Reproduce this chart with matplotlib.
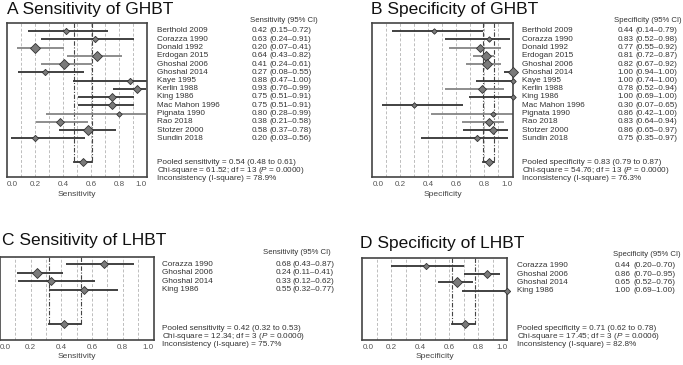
import matplotlib.pyplot as plt
import matplotlib.transforms as mtransforms

plt.rcParams['font.family'] = 'Liberation Sans'
plt.rcParams['mathtext.fontset'] = 'custom'
plt.rcParams['mathtext.rm'] = 'Liberation Sans'
plt.rcParams['mathtext.it'] = 'Liberation Sans:italic'

# ---- data ----
ghbt_studies = ['Berthold 2009', 'Corazza 1990', 'Donald 1992', 'Erdogan 2015',
                'Ghoshal 2006', 'Ghoshal 2014', 'Kaye 1995', 'Kerlin 1988', 'King 1986',
                'Mac Mahon 1996', 'Pignata 1990', 'Rao 2018', 'Stotzer 2000', 'Sundin 2018']
ghbt_sens = [0.42, 0.63, 0.20, 0.64, 0.41, 0.27, 0.88, 0.93, 0.75, 0.75, 0.80, 0.38, 0.58, 0.20]
ghbt_sens_lo = [0.15, 0.24, 0.07, 0.43, 0.24, 0.08, 0.47, 0.76, 0.51, 0.51, 0.28, 0.21, 0.37, 0.03]
ghbt_sens_hi = [0.72, 0.91, 0.41, 0.82, 0.61, 0.55, 1.00, 0.99, 0.91, 0.91, 0.99, 0.58, 0.78, 0.56]
ghbt_sens_weight = [4, 4, 6, 6.5, 6, 4, 4, 5.5, 5.5, 5.5, 3.5, 5.5, 6, 4]
ghbt_sens_pooled = (0.54, 0.48, 0.61)
ghbt_sens_stats = ('61.52', 13, '0.0000', '78.9')

ghbt_spec = [0.44, 0.83, 0.77, 0.81, 0.82, 1.00, 1.00, 0.78, 1.00, 0.30, 0.86, 0.83, 0.86, 0.75]
ghbt_spec_lo = [0.14, 0.52, 0.55, 0.72, 0.67, 0.94, 0.74, 0.52, 0.69, 0.07, 0.42, 0.64, 0.65, 0.35]
ghbt_spec_hi = [0.79, 0.98, 0.92, 0.87, 0.92, 1.00, 1.00, 0.94, 1.00, 0.65, 1.00, 0.94, 0.97, 0.97]
ghbt_spec_weight = [3.5, 3.5, 5.5, 7, 6, 6, 3.5, 5, 3.5, 3.5, 3.5, 5.5, 5, 4]
ghbt_spec_pooled = (0.83, 0.79, 0.87)
ghbt_spec_stats = ('54.76', 13, '0.0000', '76.3')

lhbt_studies = ['Corazza 1990', 'Ghoshal 2006', 'Ghoshal 2014', 'King 1986']
lhbt_sens = [0.68, 0.24, 0.33, 0.55]
lhbt_sens_lo = [0.43, 0.11, 0.12, 0.32]
lhbt_sens_hi = [0.87, 0.41, 0.62, 0.77]
lhbt_sens_weight = [5.5, 6.5, 5.5, 5.5]
lhbt_sens_pooled = (0.42, 0.32, 0.53)
lhbt_sens_stats = ('12.34', 3, '0.0000', '75.7')

lhbt_spec = [0.44, 0.86, 0.65, 1.00]
lhbt_spec_lo = [0.20, 0.70, 0.52, 0.69]
lhbt_spec_hi = [0.70, 0.95, 0.76, 1.00]
lhbt_spec_weight = [4, 5.5, 7, 4]
lhbt_spec_pooled = (0.71, 0.62, 0.78)
lhbt_spec_stats = ('17.45', 3, '0.0006', '82.8')

W, H = 683, 365
fig = plt.figure(figsize=(W / 100, H / 100), dpi=100)

DARK = '#333333'
GREY = '#858585'
FS = 5.9  # small text


def draw_panel(title, title_xy, box, studies, est, lo, hi, weight, pooled, stats,
               measure, cols, grey_rows, pool_text_px):
    left, top, right, bottom, row0, step, pool_px = box
    ax = fig.add_axes([left / W, 1 - bottom / H, (right - left) / W, (bottom - top) / H])
    ypool = (pool_px - row0) / step
    ytop = (top - row0) / step
    ax.set_xlim(0, 1)
    ax.set_ylim((bottom - row0) / step, ytop)

    for g in [0.1, 0.2, 0.3, 0.4, 0.5, 0.6, 0.7, 0.8, 0.9]:
        ax.axvline(g, color='#bdbdbd', lw=0.7, ls=(0, (3, 2)), zorder=0)
    for b in pooled[1:]:
        ax.plot([b, b], [ytop, ypool], color='#444444', lw=0.8,
                ls=(0, (4, 1.5, 1, 1.5)), zorder=1)

    for i in range(len(studies)):
        c = GREY if i in grey_rows else DARK
        ax.plot([lo[i], hi[i]], [i, i], color=c, lw=1.3, solid_capstyle='butt', zorder=2)
        ax.plot(est[i], i, marker='D', ms=weight[i] * 0.8, mfc='#7a7a7a', mec=DARK,
                mew=0.6, clip_on=False, zorder=3)
    ax.plot([pooled[1], pooled[2]], [ypool, ypool], color=DARK, lw=1.3, zorder=2)
    ax.plot(pooled[0], ypool, marker='D', ms=5 * 0.8, mfc='#7a7a7a', mec=DARK, mew=0.6, zorder=3)

    for s in ax.spines.values():
        s.set_color('#444444')
        s.set_linewidth(1.2)
    ax.set_yticks([])
    ax.set_xticks([0, 0.2, 0.4, 0.6, 0.8, 1.0])
    ax.set_xticklabels(['0.0', '0.2', '0.4', '0.6', '0.8', '1.0'])
    ax.tick_params(axis='x', length=0, pad=3, labelsize=5.8, labelcolor='#555555')
    labs = ax.get_xticklabels()
    labs[0].set_ha('left')
    labs[-1].set_ha('right')
    ax.set_xlabel(measure, fontsize=6.1, color='#444444', labelpad=2)

    fig.text(title_xy[0] / W, 1 - title_xy[1] / H, title, fontsize=12.5,
             va='baseline', ha='left', color='#111111')

    tr = mtransforms.blended_transform_factory(fig.transFigure, ax.transData)
    name_x, val_x, ci_x, head_x, head_y = cols
    fig.text(head_x / W, 1 - head_y / H, f'{measure} (95% CI)', fontsize=5.6,
             color=DARK, va='center')
    for i, s in enumerate(studies):
        fig.text(name_x / W, i, s, transform=tr, fontsize=FS, color=DARK, va='center')
        fig.text(val_x / W, i, f'{est[i]:.2f}', transform=tr, fontsize=FS, color=DARK, va='center')
        fig.text(ci_x / W, i, f'({lo[i]:.2f}\u2013{hi[i]:.2f})', transform=tr,
                 fontsize=FS, color=DARK, va='center')

    chi, df, p, i2 = stats
    lines = [f'Pooled {measure.lower()} = {pooled[0]:.2f} ({pooled[1]:.2f} to {pooled[2]:.2f})',
             f'Chi-square = {chi}; df = {df} ($\\it{{P}}$ = {p})',
             f'Inconsistency (I-square) = {i2}%']
    for ln, yp in zip(lines, pool_text_px):
        fig.text(name_x / W, 1 - yp / H, ln, fontsize=FS, color=DARK, va='center')


# box: left, top, right, bottom, first-row y, row step, pooled-row y (pixels)
draw_panel('A Sensitivity of GHBT', (7, 14.3), (7, 23.3, 147, 176.7, 31, 8.25, 161.7),
           ghbt_studies, ghbt_sens, ghbt_sens_lo, ghbt_sens_hi, ghbt_sens_weight,
           ghbt_sens_pooled, ghbt_sens_stats, 'Sensitivity',
           (156.7, 252, 269.5, 250, 20), [2, 3, 4, 10, 11], (162.7, 170.7, 178.8))
draw_panel('B Specificity of GHBT', (370.7, 14.3), (372.3, 23.3, 512.5, 176.7, 31, 8.25, 161.7),
           ghbt_studies, ghbt_spec, ghbt_spec_lo, ghbt_spec_hi, ghbt_spec_weight,
           ghbt_spec_pooled, ghbt_spec_stats, 'Specificity',
           (521.7, 617.5, 635, 614, 20), [2, 3, 4, 7, 10, 11], (162.7, 170.7, 178.8))
draw_panel('C Sensitivity of LHBT', (1.7, 245), (0, 257.3, 153.5, 339.5, 264, 8.6, 324.3),
           lhbt_studies, lhbt_sens, lhbt_sens_lo, lhbt_sens_hi, lhbt_sens_weight,
           lhbt_sens_pooled, lhbt_sens_stats, 'Sensitivity',
           (162.3, 276, 292.7, 262.7, 252), [], (328.5, 336.5, 344.5))
draw_panel('D Specificity of LHBT', (360, 248), (362.3, 258.3, 507.3, 339.5, 265.7, 8.3, 324.3),
           lhbt_studies, lhbt_spec, lhbt_spec_lo, lhbt_spec_hi, lhbt_spec_weight,
           lhbt_spec_pooled, lhbt_spec_stats, 'Specificity',
           (517.3, 614.5, 634, 613.3, 255), [], (328.5, 336.5, 344.5))

fig.savefig('out.png', dpi=100)
